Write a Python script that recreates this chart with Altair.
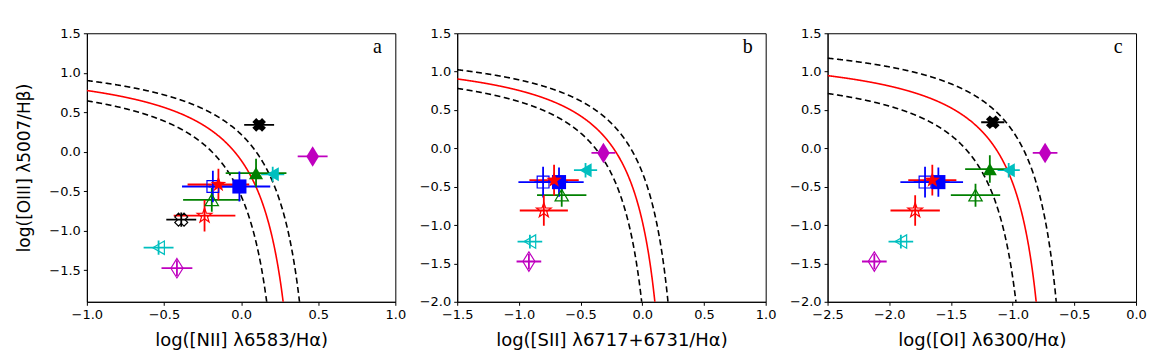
import math
import numpy as np
import pandas as pd
import altair as alt

# ---------------- data ----------------
MARKERS = ["k_fill", "k_open", "c_fill", "c_open", "m_fill", "m_open",
           "g_fill", "g_open", "b_fill", "b_open", "r_fill", "r_open"]
COLORS = ["#000000", "#000000", "#00bfbf", "#00bfbf", "#bf00bf", "#bf00bf",
          "#008000", "#008000", "#0000ff", "#0000ff", "#ff0000", "#ff0000"]
FILLED = [True, False, True, False, True, False, True, False, True, False, True, False]
KIND = ["x", "x", "tl", "tl", "d", "d", "tu", "tu", "s", "s", "star", "star"]

# log([OIII]/Hb) shared by all panels
Y = [0.34, -0.86, -0.285, -1.215, -0.06, -1.475, -0.27, -0.61, -0.44, -0.44, -0.415, -0.81]
YERR = [0.06, 0.09, 0.095, 0.09, 0.1, 0.1, 0.18, 0.15, 0.19, 0.2, 0.2, 0.2]

# panel a: log([NII]/Ha)
XA = [0.117, -0.388, 0.205, -0.535, 0.464, -0.416, 0.097, -0.19, -0.011, -0.183, -0.147, -0.237]
XERR_A = [0.097, 0.097, 0.075, 0.097, 0.097, 0.1, 0.197, 0.186, 0.2, 0.2, 0.2, 0.2]
# panel b: log([SII]/Ha)
XB = [None, None, -0.46, -0.911, -0.315, -0.919, None, -0.653, -0.675, -0.804, -0.715, -0.798]
XERR_B = [None, None, 0.094, 0.1, 0.097, 0.1, None, 0.2, 0.2, 0.2, 0.2, 0.195]
# panel c: log([OI]/Ha)
XC = [-1.161, None, -1.032, -1.906, -0.737, -2.121, -1.185, -1.301, -1.602, -1.71, -1.651, -1.79]
XERR_C = [0.094, None, 0.09, 0.1, 0.1, 0.1, 0.2, 0.2, 0.2, 0.2, 0.195, 0.2]

# Kewley et al. (2001) maximum-starburst lines: y = A/(x - B) + C, with dashed offsets (dx, dy)
CURVE_A = (0.61, 0.47, 1.19, [(0.1, 0.1), (-0.1, -0.1)])
CURVE_B = (0.72, 0.32, 1.30, [(0.1, 0.1), (-0.1, -0.1)])
CURVE_C = (0.73, -0.59, 1.33, [(0.15, 0.2), (-0.15, -0.2)])

# ---------------- styles ----------------
pts = []
for k in range(10):
    ang = math.radians(-90 + 36 * k)
    r = 1.0 if k % 2 == 0 else 0.40
    pts.append(f"{r * math.cos(ang):.3f},{r * math.sin(ang):.3f}")
STAR = "M" + "L".join(pts) + "Z"
THIN_DIAMOND = "M0,-1L0.62,0L0,1L-0.62,0Z"

SHAPE_OF = {"x": "cross", "tl": "triangle-left", "tu": "triangle-up", "s": "square",
            "d": THIN_DIAMOND, "star": STAR}
ANGLE_OF = {"x": 45, "tl": 0, "tu": 0, "s": 0, "d": 0, "star": 0}
SIZE_FILLED = {"x": 190, "tl": 200, "tu": 200, "s": 200, "d": 420, "star": 270}
SIZE_OPEN = {"x": 170, "tl": 180, "tu": 180, "s": 140, "d": 380, "star": 240}


def curve_df(params, xmin, ylow):
    A, B, C, shifts = params
    rows = []
    for name, dx, dy in [("main", 0.0, 0.0), ("up", shifts[0][0], shifts[0][1]),
                         ("lo", shifts[1][0], shifts[1][1])]:
        xend = B + dx + A / (ylow - 0.4 - C - dy)
        for xv in np.linspace(xmin, xend, 700):
            rows.append({"cx": float(xv), "cy": float(A / (xv - B - dx) + C + dy), "kind": name})
    return pd.DataFrame(rows)


def panel(xs, xerrs, xdom, ydom, xticks, yticks, xtitle, ytitle, params, letter):
    rows = []
    for i in range(len(MARKERS)):
        if xs[i] is None:
            continue
        k = KIND[i]
        rows.append({
            "x": xs[i], "y": Y[i],
            "xlo": xs[i] - xerrs[i], "xhi": xs[i] + xerrs[i],
            "ylo": Y[i] - YERR[i], "yhi": Y[i] + YERR[i],
            "color": COLORS[i], "filled": FILLED[i],
            "shape": SHAPE_OF[k], "angle": ANGLE_OF[k],
            "size": SIZE_FILLED[k] if FILLED[i] else SIZE_OPEN[k],
        })
    df = pd.DataFrame(rows)
    xsc = alt.Scale(domain=xdom, nice=False, zero=False, padding=0)
    ysc = alt.Scale(domain=ydom, nice=False, zero=False, padding=0)
    xaxis = alt.Axis(values=xticks, format=".1f", title=xtitle)
    yaxis = alt.Axis(values=yticks, format=".1f", title=ytitle)

    def X(f):
        return alt.X(f, type="quantitative", scale=xsc, axis=xaxis)

    def Yc(f):
        return alt.Y(f, type="quantitative", scale=ysc, axis=yaxis)

    col = alt.Color("color:N", scale=None)
    base = alt.Chart(df)
    hbar = base.mark_rule(strokeWidth=1.8, clip=True).encode(x=X("xlo"), x2="xhi", y=Yc("y"), color=col)
    vbar = base.mark_rule(strokeWidth=1.8, clip=True).encode(x=X("x"), y=Yc("ylo"), y2="yhi", color=col)
    enc = dict(x=X("x"), y=Yc("y"), color=col,
               shape=alt.Shape("shape:N", scale=None),
               angle=alt.Angle("angle:Q", scale=None),
               size=alt.Size("size:Q", scale=None))
    filled = base.transform_filter("datum.filled").mark_point(
        filled=True, opacity=1, strokeWidth=0).encode(**enc)
    hollow = base.transform_filter("!datum.filled").mark_point(
        filled=False, opacity=1, strokeWidth=1.2).encode(**enc)

    cdf = curve_df(params, xdom[0], ydom[0])
    cbase = alt.Chart(cdf)
    red = cbase.transform_filter("datum.kind == 'main'").mark_line(
        color="#ff0000", strokeWidth=1.6, clip=True).encode(x=X("cx"), y=Yc("cy"), order="cx:Q")
    dash = cbase.transform_filter("datum.kind != 'main'").mark_line(
        color="#000000", strokeWidth=1.6, strokeDash=[6, 3.5], clip=True).encode(
        x=X("cx"), y=Yc("cy"), detail="kind:N", order="cx:Q")
    txt = alt.Chart(pd.DataFrame({"t": [letter]})).mark_text(
        font="Liberation Serif", fontSize=20, color="black", baseline="middle", align="center"
    ).encode(x=alt.value(291), y=alt.value(14), text="t:N")

    return alt.layer(dash, red, hbar, vbar, hollow, filled, txt).properties(width=309, height=269)


YT_A = [-1.5, -1.0, -0.5, 0.0, 0.5, 1.0, 1.5]
YT_BC = [-2.0, -1.5, -1.0, -0.5, 0.0, 0.5, 1.0, 1.5]

pa = panel(XA, XERR_A, [-1.0, 1.0], [-1.9, 1.5], [-1.0, -0.5, 0.0, 0.5, 1.0], YT_A,
           "log([NII] λ6583/Hα)", "log([OIII] λ5007/Hβ)", CURVE_A, "a")
pb = panel(XB, XERR_B, [-1.5, 1.0], [-2.0, 1.5], [-1.5, -1.0, -0.5, 0.0, 0.5, 1.0], YT_BC,
           "log([SII] λ6717+6731/Hα)", None, CURVE_B, "b")
pc = panel(XC, XERR_C, [-2.5, 0.0], [-2.0, 1.5], [-2.5, -2.0, -1.5, -1.0, -0.5, 0.0], YT_BC,
           "log([OI] λ6300/Hα)", None, CURVE_C, "c")

chart = alt.hconcat(pa, pb, pc, spacing=62, bounds="flush").properties(
    padding={"left": 7, "top": 18, "right": 5, "bottom": 5}
).configure_view(stroke="black", strokeWidth=1).configure_axis(
    grid=False, domainColor="black", tickColor="black", labelColor="black", titleColor="black",
    tickSize=3.5, labelFontSize=13, titleFontSize=17, labelFont="DejaVu Sans",
    titleFont="DejaVu Sans", titleFontWeight="normal", domainWidth=1, tickWidth=1,
    labelPadding=3, titlePadding=11, labelFlush=False
).configure_axisX(titleFontSize=18, titlePadding=10).configure_axisY(titlePadding=15)

chart.save("out.html", embed_options={"renderer": "svg", "actions": False})
